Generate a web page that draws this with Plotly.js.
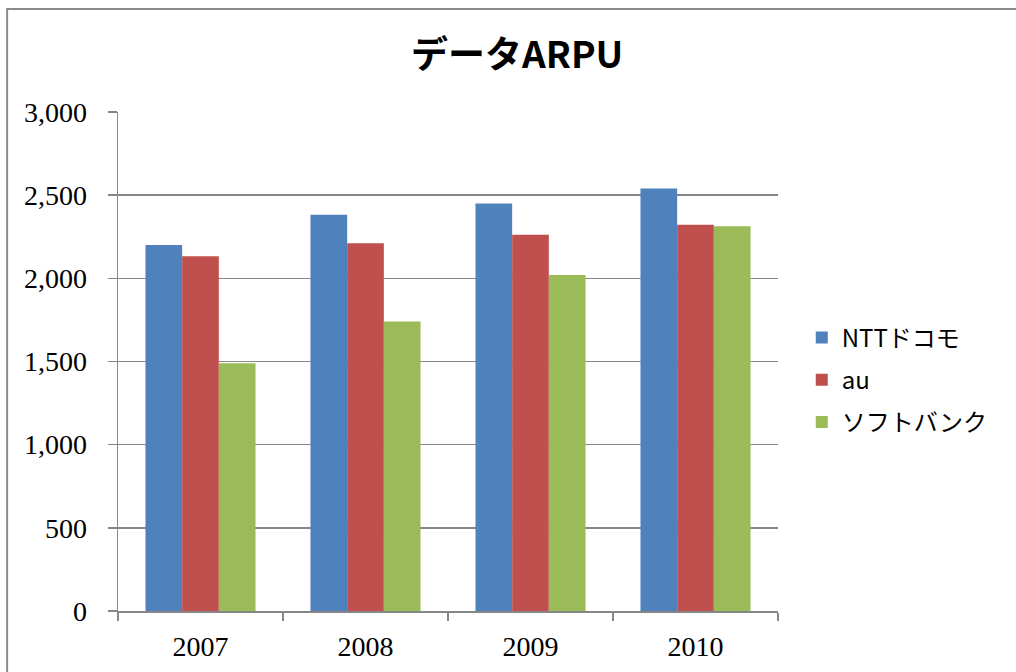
<!DOCTYPE html>
<html>
<head>
<meta charset="utf-8">
<script src="https://cdn.plot.ly/plotly-3.0.1.min.js"></script>
<style>html,body{margin:0;padding:0;background:#fff;}#chart{width:1016px;height:672px;}</style>
</head>
<body>
<div id="chart"></div>
<script>
const years = ["2007", "2008", "2009", "2010"];
const seriesNames = ["NTTドコモ", "au", "ソフトバンク"];
const docomo = [2200, 2383, 2450, 2540];
const au = [2133, 2211, 2262, 2322];
const softbank = [1490, 1741, 2020, 2313];
const colors = ["#4F81BD", "#C0504D", "#9BBB59"];
const yTicks = [0, 500, 1000, 1500, 2000, 2500, 3000];
const yTickLabels = ["0", "500", "1,000", "1,500", "2,000", "2,500", "3,000"];

const values = [docomo, au, softbank];
const traces = values.map((v, i) => ({
  type: "bar",
  name: seriesNames[i],
  legendgroup: "g" + i,
  x: years,
  y: v,
  marker: {color: colors[i], line: {width: 0}},
  hoverinfo: "x+y+name"
}));

const layout = {
  width: 1016,
  height: 672,
  margin: {l: 118, r: 238, t: 112, b: 61},
  paper_bgcolor: "#ffffff",
  plot_bgcolor: "#ffffff",
  barmode: "group",
  bargap: 0.333,
  bargroupgap: 0,
  title: {
    text: "<b>データARPU</b>",
    font: {family: "Noto Sans CJK JP", size: 37, color: "#000"},
    x: 0.509, xanchor: "center",
    y: 0.918, yanchor: "middle"
  },
  xaxis: {
    type: "category",
    tickson: "boundaries",
    ticks: "outside",
    ticklen: 8,
    tickcolor: "#868686",
    tickwidth: 1.5,
    showline: true,
    linecolor: "#868686",
    linewidth: 1.5,
    showgrid: false,
    tickfont: {family: "Liberation Serif", size: 28, color: "#000"},
    ticklabelstandoff: 10,
    fixedrange: true
  },
  yaxis: {
    range: [0, 3000],
    tickvals: yTicks,
    ticktext: yTickLabels,
    ticks: "outside",
    ticklen: 9,
    tickcolor: "#868686",
    tickwidth: 1.5,
    showline: true,
    linecolor: "#868686",
    linewidth: 1.5,
    showgrid: true,
    gridcolor: "#868686",
    gridwidth: 1.5,
    zeroline: false,
    tickfont: {family: "Liberation Serif", size: 28, color: "#000"},
    ticklabelstandoff: 15,
    fixedrange: true
  },
  legend: {
    x: 1.036, xanchor: "left",
    y: 0.463, yanchor: "middle",
    font: {family: "Noto Sans CJK JP", size: 24, color: "#000"},
    tracegroupgap: 8,
    itemwidth: 30,
    bgcolor: "rgba(0,0,0,0)"
  },
  shapes: [{
    type: "rect", xref: "paper", yref: "paper",
    x0: -0.168, x1: 1.6, y0: -0.5, y1: 1.2064,
    line: {color: "#8a8a8a", width: 2}, fillcolor: "rgba(0,0,0,0)", layer: "below"
  }],
  showlegend: true
};

Plotly.newPlot("chart", traces, layout, {staticPlot: true, displayModeBar: false});
</script>
</body>
</html>
